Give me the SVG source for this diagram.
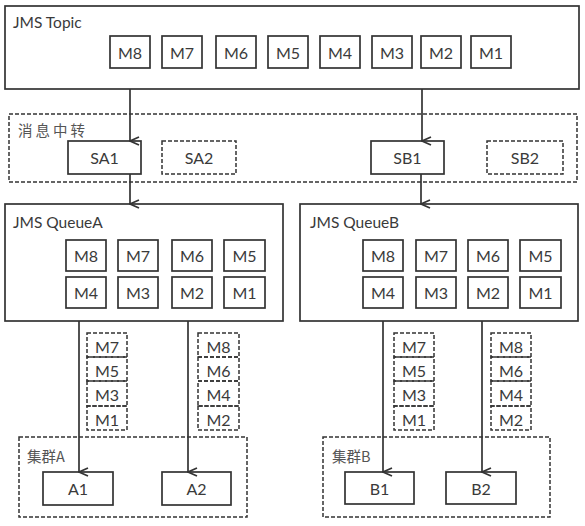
<svg xmlns="http://www.w3.org/2000/svg" width="585" height="526" viewBox="0 0 585 526">
<defs>
<style>
.box{fill:#fff;stroke:#333;stroke-width:1.7}
.dbox{fill:none;stroke:#333;stroke-width:1.5;stroke-dasharray:4 2}
.dfill{fill:#fff;stroke:#333;stroke-width:1.5;stroke-dasharray:4 2}
.t{font-family:Lato,"Open Sans","Noto Sans CJK SC",sans-serif;font-size:16px;fill:#3a3a3a;text-anchor:middle;dominant-baseline:central}
.tl{font-family:Lato,"Open Sans","Noto Sans CJK SC",sans-serif;font-size:15.5px;fill:#3a3a3a;dominant-baseline:central}
.cjk{font-family:"Noto Sans CJK SC",sans-serif;font-size:14.5px;fill:#555;dominant-baseline:central}
.c{stroke:#333;stroke-width:1.7;fill:none;marker-end:url(#ah)}
</style>
<marker id="ah" viewBox="0 0 10 12" refX="5" refY="11" markerWidth="10" markerHeight="12" markerUnits="userSpaceOnUse" orient="auto-start-reverse">
<path d="M1,2 L5,11 L9,2" fill="none" stroke="#333" stroke-width="1.7"/>
</marker>
</defs>

<g id="topic">
<rect class="box" x="5" y="6" width="574" height="83"/>
<text class="tl" x="13" y="22">JMS Topic</text>
<rect class="box" x="110" y="36" width="40" height="32"/><text class="t" x="130" y="52">M8</text>
<rect class="box" x="162" y="36" width="40" height="32"/><text class="t" x="182" y="52">M7</text>
<rect class="box" x="216" y="36" width="40" height="32"/><text class="t" x="236" y="52">M6</text>
<rect class="box" x="268" y="36" width="40" height="32"/><text class="t" x="288" y="52">M5</text>
<rect class="box" x="320" y="36" width="40" height="32"/><text class="t" x="340" y="52">M4</text>
<rect class="box" x="372" y="36" width="40" height="32"/><text class="t" x="392" y="52">M3</text>
<rect class="box" x="421" y="36" width="40" height="32"/><text class="t" x="441" y="52">M2</text>
<rect class="box" x="471" y="36" width="40" height="32"/><text class="t" x="491" y="52">M1</text>
</g>

<g id="relay">
<rect class="dbox" x="9" y="114" width="568" height="68"/>
<text class="cjk" x="18" y="129" letter-spacing="3">消息中转</text>
</g>
<g id="SA1"><rect class="box" x="68" y="141" width="73" height="33"/><text class="t" x="104.5" y="157.5">SA1</text></g>
<g id="SA2"><rect class="dfill" x="162" y="141" width="74" height="33"/><text class="t" x="199" y="157.5">SA2</text></g>
<g id="SB1"><rect class="box" x="371" y="141" width="73" height="33"/><text class="t" x="407.5" y="157.5">SB1</text></g>
<g id="SB2"><rect class="dfill" x="487" y="141" width="76" height="33"/><text class="t" x="525" y="157.5">SB2</text></g>

<g id="queueA">
<rect class="box" x="5" y="204" width="278" height="117"/>
<text class="tl" x="13" y="222">JMS QueueA</text>
<rect class="box" x="66" y="240" width="40" height="31"/><text class="t" x="86" y="255.5">M8</text>
<rect class="box" x="118" y="240" width="40" height="31"/><text class="t" x="138" y="255.5">M7</text>
<rect class="box" x="172" y="240" width="40" height="31"/><text class="t" x="192" y="255.5">M6</text>
<rect class="box" x="224" y="240" width="41" height="31"/><text class="t" x="244.5" y="255.5">M5</text>
<rect class="box" x="66" y="277" width="40" height="31"/><text class="t" x="86" y="292.5">M4</text>
<rect class="box" x="118" y="277" width="40" height="31"/><text class="t" x="138" y="292.5">M3</text>
<rect class="box" x="172" y="277" width="40" height="31"/><text class="t" x="192" y="292.5">M2</text>
<rect class="box" x="224" y="277" width="41" height="31"/><text class="t" x="244.5" y="292.5">M1</text>
</g>

<g id="queueB">
<rect class="box" x="300" y="204" width="278" height="117"/>
<text class="tl" x="310" y="222">JMS QueueB</text>
<rect class="box" x="363" y="240" width="40" height="31"/><text class="t" x="383" y="255.5">M8</text>
<rect class="box" x="416" y="240" width="40" height="31"/><text class="t" x="436" y="255.5">M7</text>
<rect class="box" x="468" y="240" width="40" height="31"/><text class="t" x="488" y="255.5">M6</text>
<rect class="box" x="520" y="240" width="41" height="31"/><text class="t" x="540.5" y="255.5">M5</text>
<rect class="box" x="363" y="277" width="40" height="31"/><text class="t" x="383" y="292.5">M4</text>
<rect class="box" x="416" y="277" width="40" height="31"/><text class="t" x="436" y="292.5">M3</text>
<rect class="box" x="468" y="277" width="40" height="31"/><text class="t" x="488" y="292.5">M2</text>
<rect class="box" x="520" y="277" width="41" height="31"/><text class="t" x="540.5" y="292.5">M1</text>
</g>

<g id="stackA1">
<rect class="dbox" x="87" y="333" width="40" height="24"/><text class="t" x="107" y="346">M7</text>
<rect class="dbox" x="87" y="357" width="40" height="24"/><text class="t" x="107" y="370">M5</text>
<rect class="dbox" x="87" y="381" width="40" height="25"/><text class="t" x="107" y="394.5">M3</text>
<rect class="dbox" x="87" y="406" width="40" height="24"/><text class="t" x="107" y="419">M1</text>
</g>
<g id="stackA2">
<rect class="dbox" x="198" y="333" width="41" height="24"/><text class="t" x="218.5" y="346">M8</text>
<rect class="dbox" x="198" y="357" width="41" height="24"/><text class="t" x="218.5" y="370">M6</text>
<rect class="dbox" x="198" y="381" width="41" height="25"/><text class="t" x="218.5" y="394.5">M4</text>
<rect class="dbox" x="198" y="406" width="41" height="24"/><text class="t" x="218.5" y="419">M2</text>
</g>
<g id="stackB1">
<rect class="dbox" x="394" y="333" width="40" height="24"/><text class="t" x="414" y="346">M7</text>
<rect class="dbox" x="394" y="357" width="40" height="24"/><text class="t" x="414" y="370">M5</text>
<rect class="dbox" x="394" y="381" width="40" height="25"/><text class="t" x="414" y="394.5">M3</text>
<rect class="dbox" x="394" y="406" width="40" height="24"/><text class="t" x="414" y="419">M1</text>
</g>
<g id="stackB2">
<rect class="dbox" x="491" y="333" width="40" height="24"/><text class="t" x="511" y="346">M8</text>
<rect class="dbox" x="491" y="357" width="40" height="24"/><text class="t" x="511" y="370">M6</text>
<rect class="dbox" x="491" y="381" width="40" height="25"/><text class="t" x="511" y="394.5">M4</text>
<rect class="dbox" x="491" y="406" width="40" height="24"/><text class="t" x="511" y="419">M2</text>
</g>

<g id="clusterA">
<rect class="dbox" x="19" y="437" width="228" height="80"/>
<text class="cjk" x="27" y="455">集群A</text>
</g>
<g id="A1"><rect class="box" x="43" y="472" width="70" height="33"/><text class="t" x="78" y="488.5">A1</text></g>
<g id="A2"><rect class="box" x="162" y="472" width="69" height="33"/><text class="t" x="196.5" y="488.5">A2</text></g>

<g id="clusterB">
<rect class="dbox" x="323" y="437" width="227" height="80"/>
<text class="cjk" x="332" y="455">集群B</text>
</g>
<g id="B1"><rect class="box" x="345" y="472" width="69" height="32"/><text class="t" x="379.5" y="488">B1</text></g>
<g id="B2"><rect class="box" x="446" y="472" width="70" height="32"/><text class="t" x="481" y="488">B2</text></g>

<g id="connectors">
<line class="c" x1="130" y1="89" x2="130" y2="141"/>
<line class="c" x1="422" y1="89" x2="422" y2="141"/>
<line class="c" x1="130" y1="174" x2="130" y2="204"/>
<line class="c" x1="421" y1="174" x2="421" y2="204"/>
<line class="c" x1="79" y1="321" x2="79" y2="472"/>
<line class="c" x1="188" y1="321" x2="188" y2="472"/>
<line class="c" x1="383" y1="321" x2="383" y2="472"/>
<line class="c" x1="482" y1="321" x2="482" y2="472"/>
</g>
</svg>
